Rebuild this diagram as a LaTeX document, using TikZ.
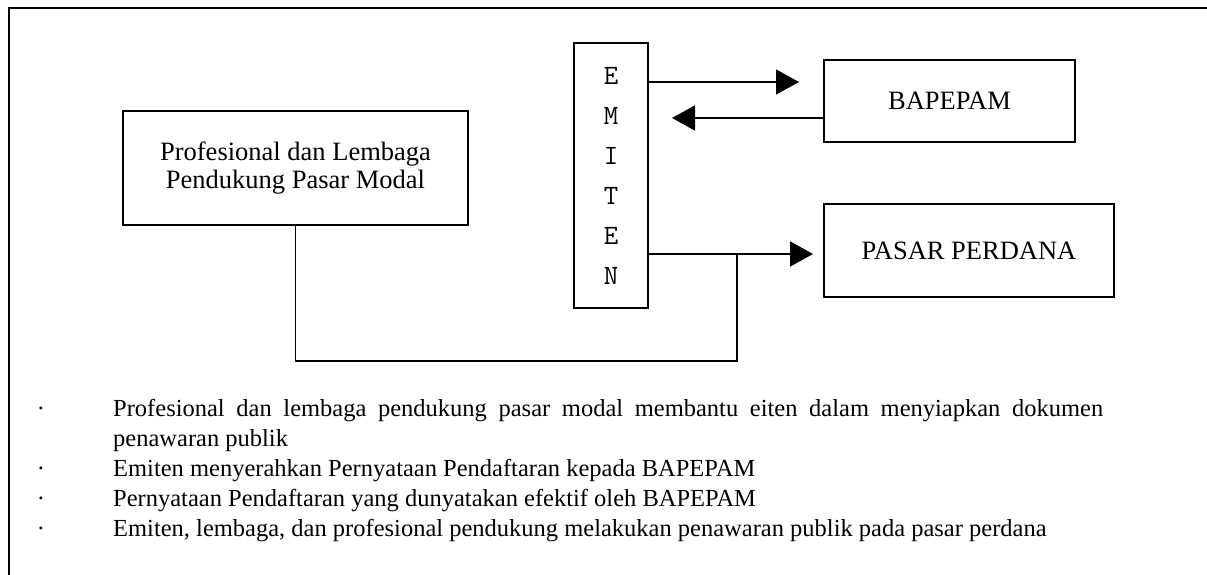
\documentclass[tikz,border=0pt]{standalone}
\usepackage{fontspec}
\setmainfont{Liberation Serif}
\usetikzlibrary{positioning}
\usetikzlibrary{arrows.meta}
\usetikzlibrary{shapes}
\tikzset{
        % Boxes of the scheme
        node_box/.style={rectangle, draw=black, line width=1.8pt, align=center, inner sep=0pt, font=\fontsize{26.5}{28}\selectfont},
        % Flow lines
        flow_line/.style={line width=1.8pt},
        flow_arrow/.style={flow_line, -{Triangle[length=23pt,width=25pt]}},
        % Notes below the scheme
        note_text/.style={anchor=base west, inner sep=0pt, font=\fontsize{24.5}{30}\selectfont},
        note_dot/.style={anchor=base, inner sep=0pt, font=\fontsize{24.5}{30}\selectfont}
}

\begin{document}
\begin{tikzpicture}[x=1pt, y=-1pt]
            \useasboundingbox (0,0) rectangle (1207,575);
            % frame
            \draw[line width=2pt] (1207,8.5) -- (8.5,8.5) -- (8.5,575);

            \node[node_box, minimum width=345pt, minimum height=114pt] (pro) at (295.5,168)
                {Profesional dan Lembaga\\Pendukung Pasar Modal};
            \node[node_box, minimum width=74pt, minimum height=265pt,
                  font=\fontsize{28}{40}\selectfont\ttfamily] (emiten) at (611,175.5)
                {E\\M\\I\\T\\E\\N};
            \node[node_box, minimum width=251pt, minimum height=82pt] (bapepam) at (949.5,101) {BAPEPAM};
            \node[node_box, minimum width=290pt, minimum height=93pt] (pasar) at (969,250.5) {PASAR PERDANA};

            \coordinate (tip1) at (799,82);
            \coordinate (tip2) at (672,118);
            \coordinate (tip3) at (813,254);
            \coordinate (junc) at (737,254);
            \coordinate (low) at (737,361);

            \draw[flow_arrow] (emiten.east |- tip1) -- (tip1);
            \draw[flow_arrow] (bapepam.west |- tip2) -- (tip2);
            \draw[flow_arrow] (emiten.east |- tip3) -- (tip3);
            \draw[flow_line] (pro.south) |- (low) -- (junc);

            % notes
            \node[note_dot] (d1) at (41,416) {\textperiodcentered};
            \node[note_text] (t1) at (113,416)
                {\makebox[990pt][s]{Profesional dan lembaga pendukung pasar modal membantu eiten dalam menyiapkan dokumen}};
            \node[note_text] (t2) at (113,446) {penawaran publik};
            \node[note_dot] (d3) at (41,476) {\textperiodcentered};
            \node[note_text] (t3) at (113,476) {Emiten menyerahkan Pernyataan Pendaftaran kepada BAPEPAM};
            \node[note_dot] (d4) at (41,506) {\textperiodcentered};
            \node[note_text] (t4) at (113,506) {Pernyataan Pendaftaran yang dunyatakan efektif oleh BAPEPAM};
            \node[note_dot] (d5) at (41,536) {\textperiodcentered};
            \node[note_text] (t5) at (113,536) {Emiten, lembaga, dan profesional pendukung melakukan penawaran publik pada pasar perdana};
\end{tikzpicture}
\end{document}
